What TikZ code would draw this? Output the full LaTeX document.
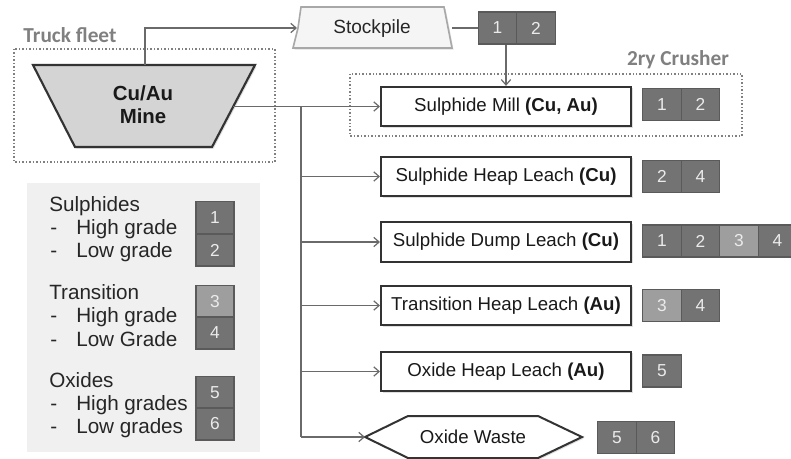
\documentclass[tikz,border=0pt]{standalone}
\usepackage{fontspec}
\setmainfont{Liberation Sans}
\newfontfamily\calib{Carlito}
\usetikzlibrary{arrows.meta,shadows}
\definecolor{nbox}{HTML}{737373}
\definecolor{nboxl}{HTML}{9E9E9E}
\definecolor{nborder}{HTML}{5A5A5A}
\definecolor{conncol}{HTML}{6A6A6A}
\definecolor{dotcol}{HTML}{808080}
\definecolor{legbg}{HTML}{F0F0F0}
\definecolor{minefill}{HTML}{D4D4D4}
\definecolor{pilefill}{HTML}{F5F5F5}
\definecolor{pileborder}{HTML}{A8A8A8}
\tikzset{
  x=0.75pt, y=-0.75pt,
  shade/.style={drop shadow={opacity=0.25, shadow xshift=1.2pt, shadow yshift=-1.2pt}},
  conn/.style={draw=conncol, line width=0.9pt},
  arr/.style={conn, -{Straight Barb[length=4pt,width=7pt]}},
  proc/.style={draw=black!80, fill=white, line width=1.5pt, minimum width=187.5pt, minimum height=29.5pt, inner sep=0pt,
    font=\fontsize{14}{16}\selectfont, text=black!90, shade},
  numbox/.style={draw=nborder, fill=nbox, line width=1pt, minimum width=28.9pt, minimum height=24pt, inner sep=0pt,
    text=black!8, font=\fontsize{13}{13}\selectfont},
  numboxl/.style={numbox, fill=nboxl},
  legbox/.style={numbox, minimum width=28.5pt},
  legboxl/.style={legbox, fill=nboxl},
  dotbox/.style={draw=dotcol, line width=1.1pt, dash pattern=on 1.1pt off 1.5pt},
  grouplabel/.style={text=dotcol, font=\calib\bfseries\fontsize{16}{16}\selectfont},
  leg/.style={anchor=base west, inner sep=0pt, font=\fontsize{15.5}{18}\selectfont, text=black!85},
}
\begin{document}
\begin{tikzpicture}
\path[use as bounding box] (0,0) rectangle (791,458);

% legend panel
\fill[legbg] (27,183) rectangle (260,452);

% dotted groups
\draw[dotbox] (14,49) rectangle (275,162);
\node[grouplabel] (truck) at (70,35) {Truck fleet};
\draw[dotbox] (350,74) rectangle (742,136);
\node[grouplabel] (crusher) at (678,60) {2ry Crusher};

% mine
\draw[fill=minefill, draw=black!80, line width=1.6pt, shade]
  (33,65) -- (255,65) -- (212,147) -- (75,147) -- cycle;
\node[align=center, font=\bfseries\fontsize{15.3}{17.3}\selectfont, text=black!90] (mine) at (143,105) {Cu/Au\\Mine};
\coordinate (minetop) at (145,65);
\coordinate (mineside) at (233,106.5);

% stockpile
\draw[fill=pilefill, draw=pileborder, line width=1.2pt, shade]
  (301,7) -- (444,7) -- (452,48) -- (293,48) -- (298,28) -- cycle;
\node[font=\fontsize{14.3}{16}\selectfont, text=black!85] (pile) at (372,29) {Stockpile};
\coordinate (pilein) at (297,28);
\coordinate (pileout) at (452,28);
\node[numbox] (s1) at (497.5,28) {1};
\node[numbox] (s2) at (536,28) {2};

% process boxes
\node[proc] (mill) at (506,106.5) {Sulphide Mill \textbf{(Cu, Au)}};
\node[proc] (heap) at (506,176.5) {Sulphide Heap Leach \textbf{(Cu)}};
\node[proc] (dump) at (506,242) {Sulphide Dump Leach \textbf{(Cu)}};
\node[proc] (trans) at (506,305.5) {Transition Heap Leach \textbf{(Au)}};
\node[proc] (oxheap) at (506,371.5) {Oxide Heap Leach \textbf{(Au)}};

% oxide waste hexagon
\draw[fill=white, draw=black!80, line width=1.5pt, shade]
  (365,437) -- (408,416) -- (538,416) -- (582,437) -- (538,458) -- (408,458) -- cycle;
\node[font=\fontsize{14}{16}\selectfont, text=black!90] (waste) at (473,437) {Oxide Waste};
\coordinate (wastein) at (365,437);

% number boxes
\node[numbox] (m1) at (662,104.5) {1};
\node[numbox] (m2) at (700.5,104.5) {2};
\node[numbox] (h2) at (662,176.5) {2};
\node[numbox] (h4) at (700.5,176.5) {4};
\node[numbox] (d1) at (662,241) {1};
\node[numbox] (d2) at (700.5,241) {2};
\node[numboxl] (d3) at (739,241) {3};
\node[numbox] (d4) at (777.5,241) {4};
\node[numboxl] (t3) at (662,305.5) {3};
\node[numbox] (t4) at (700.5,305.5) {4};
\node[numbox] (o5) at (662,371) {5};
\node[numbox] (w5) at (617,437.5) {5};
\node[numbox] (w6) at (655.5,437.5) {6};

% connectors
\draw[arr] (minetop) |- (pilein);
\draw[conn] (pileout) -- (s1.west);
\draw[arr] (s1.south -| mill.north) -- (mill.north);
\draw[arr] (mineside) -- (mill.west);
\coordinate (trunk) at (301,106.5);
\draw[conn] (trunk) -- (trunk |- wastein);
\draw[arr] (trunk |- heap.west) -- (heap.west);
\draw[arr] (trunk |- dump.west) -- (dump.west);
\draw[arr] (trunk |- trans.west) -- (trans.west);
\draw[arr] (trunk |- oxheap.west) -- (oxheap.west);
\draw[arr] (trunk |- wastein) -- (wastein);

% legend text
\node[leg] (l1) at (49,211) {Sulphides};
\node[leg] (l1a) at (50,234) {-};
\node[leg] (l1b) at (76,234) {High grade};
\node[leg] (l1c) at (50,257) {-};
\node[leg] (l1d) at (76,257) {Low grade};
\node[leg] (l2) at (49,299) {Transition};
\node[leg] (l2a) at (50,322) {-};
\node[leg] (l2b) at (76,322) {High grade};
\node[leg] (l2c) at (50,346) {-};
\node[leg] (l2d) at (76,346) {Low Grade};
\node[leg] (l3) at (49,387) {Oxides};
\node[leg] (l3a) at (50,410) {-};
\node[leg] (l3b) at (76,410) {High grades};
\node[leg] (l3c) at (50,433) {-};
\node[leg] (l3d) at (76,433) {Low grades};

\node[legbox] (g1) at (215,217.5) {1};
\node[legbox] (g2) at (215,250) {2};
\node[legboxl] (g3) at (215,301.5) {3};
\node[legbox] (g4) at (215,333) {4};
\node[legbox] (g5) at (215,392.5) {5};
\node[legbox] (g6) at (215,424) {6};
\end{tikzpicture}
\end{document}
